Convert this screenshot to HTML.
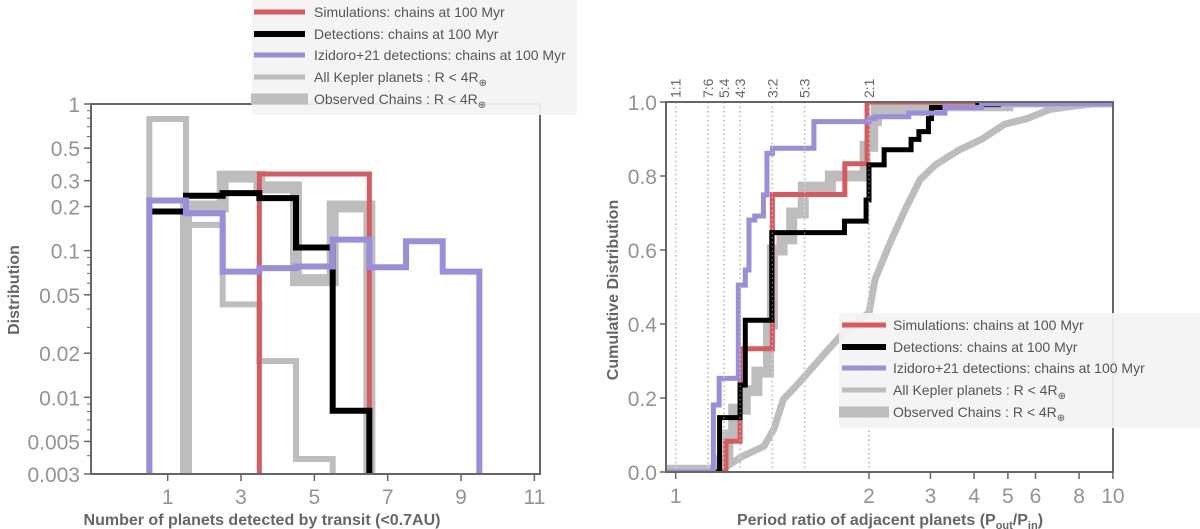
<!DOCTYPE html>
<html><head><meta charset="utf-8">
<style>
html,body{margin:0;padding:0;background:#fff;}
svg{display:block;font-family:"Liberation Sans",sans-serif;}
.tick{font-size:21px;fill:#939393;}
.title{font-size:16px;font-weight:bold;fill:#666;}
.leg{font-size:14px;fill:#555;}
.ratio{font-size:14px;fill:#666;}
</style></head>
<body>
<svg id="fig" width="1200" height="529" viewBox="0 0 1200 529">
<g id="left"></g>
<g id="right"></g>
</svg>
<script>
// ---------- Left chart data (bins = number of transiting planets) ----------
const histBins = [1,2,3,4,5,6,7,8,9];
const keplerAll = [0.79,0.15,0.043,0.0177,0.0038];
const keplerAllBins = [1,2,3,4,5];
const obsChains = [0.2,0.32,0.27,0.063,0.2];
const obsChainsBins = [2,3,4,5,6];
const simChains = [0.333,0.333,0.333];
const simChainsBins = [4,5,6];
const detChains = [0.185,0.237,0.247,0.228,0.105,0.0081];
const detChainsBins = [1,2,3,4,5,6];
const izidoro = [0.22,0.18,0.072,0.076,0.078,0.119,0.077,0.116,0.072];
const izidoroBins = [1,2,3,4,5,6,7,8,9];
const leftXTicks = [1,3,5,7,9,11];
const leftYTicks = [1,0.5,0.3,0.2,0.1,0.05,0.02,0.01,0.005,0.003];
const leftYTickLabels = ["1","0.5","0.3","0.2","0.1","0.05","0.02","0.01","0.005","0.003"];

// ---------- Right chart data (CDF of period ratios) ----------
const keplerCdfX = [0.95,1.18,1.2,1.25,1.34,1.457,1.507,1.557,1.636,1.754,1.873,1.972,2.0,2.08,2.3,2.54,2.8,3.1,3.62,4.22,4.89,5.67,6.6,7.9,10];
const keplerCdfY = [0.01,0.01,0.0,0.01,0.041,0.07,0.115,0.196,0.24,0.31,0.38,0.42,0.43,0.52,0.62,0.71,0.79,0.83,0.87,0.9,0.94,0.955,0.98,0.99,1.0];
const chainsCdfX = [1.23,1.27,1.3,1.36,1.42,1.48,1.5,1.55,1.6,1.66,1.8,1.98,2.05,2.1,3.0,5.0,10];
const chainsCdfY = [0.03,0.1,0.17,0.22,0.27,0.4,0.6,0.63,0.7,0.77,0.8,0.88,0.95,0.98,0.99,1.0,1.0];
const simCdfX = [1.26,1.333,1.5,1.875,1.99,10];
const simCdfY = [0.083,0.333,0.75,0.833,1.0,1.0];
const detCdfX = [1.227,1.333,1.36,1.497,1.873,1.985,2.0,2.21,2.64,2.78,2.96,3.02,4.1,4.7,10];
const detCdfY = [0.147,0.235,0.41,0.647,0.678,0.735,0.83,0.871,0.899,0.92,0.955,0.985,0.993,1.0,1.0];
const izCdfX = [0.95,1.195,1.225,1.324,1.36,1.379,1.409,1.454,1.472,1.501,1.715,2.0,2.08,2.6,3.3,4.2,10];
const izCdfY = [0.0,0.181,0.253,0.505,0.546,0.681,0.692,0.749,0.861,0.875,0.947,0.955,0.96,0.97,0.985,0.995,1.0];
const rightXTicks = [1,2,3,4,5,6,8,10];
const rightYTicks = [0,0.2,0.4,0.6,0.8,1.0];
const ratioValues = [1,7/6,5/4,4/3,3/2,5/3,2];
const ratioLabels = ["1:1","7:6","5:4","4:3","3:2","5:3","2:1"];

const NS = "http://www.w3.org/2000/svg";
function mk(tag, attrs, parent){const e=document.createElementNS(NS,tag);for(const k in attrs)e.setAttribute(k,attrs[k]);parent.appendChild(e);return e;}

const C_RED="#d65a60", C_PUR="#9a8ed8", C_GRAY="#bdbdbd", C_FRAME="#666";

// ================= LEFT =================
const L = document.getElementById('left');
const lx = v => 131 + v*36.67;
const LY0=104, LY1=474, LDEC=(LY1-LY0)/Math.log10(1/0.003);
const ly = v => LY0 + Math.log10(1/v)*LDEC;

function histPath(bins, vals, dropLeft, dropRight){
  let d="";
  const b0=bins[0]-0.5;
  if(dropLeft) d+=`M${lx(b0)},${LY1+4} L${lx(b0)},${ly(vals[0])}`;
  else d+=`M${lx(b0)},${ly(vals[0])}`;
  for(let i=0;i<bins.length;i++){
    const a=bins[i]-0.5,b=bins[i]+0.5;
    d+=` L${lx(a)},${ly(vals[i])} L${lx(b)},${ly(vals[i])}`;
  }
  if(dropRight) d+=` L${lx(bins[bins.length-1]+0.5)},${LY1+4}`;
  return d;
}
const clipL = mk('clipPath',{id:'clipL'},L);
mk('rect',{x:91,y:LY0,width:449,height:LY1-LY0},clipL);
const lg = mk('g',{'clip-path':'url(#clipL)'},L);
let p;
p=mk('path',{d:histPath(obsChainsBins,obsChains,true,true),fill:'none',stroke:C_GRAY,'stroke-width':12},lg);


p=mk('path',{d:histPath(keplerAllBins,keplerAll,true,true),fill:'none',stroke:C_GRAY,'stroke-width':6},lg);


p=mk('path',{d:histPath(simChainsBins,simChains,true,true),fill:'none',stroke:C_RED,'stroke-width':5},lg);


p=mk('path',{d:histPath(detChainsBins,detChains,false,true),fill:'none',stroke:'#000','stroke-width':6},lg);


p=mk('path',{d:histPath(izidoroBins,izidoro,true,true),fill:'none',stroke:C_PUR,'stroke-width':6},lg);



p=mk('rect',{x:91,y:LY0,width:449,height:LY1-LY0,fill:'none',stroke:C_FRAME,'stroke-width':2},L);


for(let i=0;i<leftYTicks.length;i++){
  const y=ly(leftYTicks[i]);
  mk('line',{x1:84,x2:91,y1:y,y2:y,stroke:C_FRAME,'stroke-width':1.5},L);
  const t=mk('text',{x:80,y:y+8,'text-anchor':'end',class:'tick'},L);
  t.textContent=leftYTickLabels[i];
  
  
}
for(const dec of [0.001,0.01,0.1]){
  for(let m=2;m<=9;m++){const v=m*dec; if(v<0.003||v>1)continue;
    const y=ly(v); mk('line',{x1:87,x2:91,y1:y,y2:y,stroke:C_FRAME,'stroke-width':1},L);}
}
for(const v of leftXTicks){
  const x=lx(v);
  mk('line',{x1:x,x2:x,y1:LY1,y2:LY1+7,stroke:C_FRAME,'stroke-width':1.5},L);
  const t=mk('text',{x:x,y:LY1+30,'text-anchor':'middle',class:'tick'},L);
  t.textContent=v;
  
  
}
p=mk('text',{x:262,y:525,'text-anchor':'middle',class:'title'},L);
p.textContent="Number of planets detected by transit (<0.7AU)";


p=mk('text',{x:0,y:0,'text-anchor':'middle',class:'title',transform:'translate(19,290) rotate(-90)'},L);
p.textContent="Distribution";



// ================= RIGHT =================
const R = document.getElementById('right');
const RX0=666, RX1=1113, RY0=102, RY1=472;
const rx = v => v<=2 ? 675.7 + (v-1)*193.3 : 869 + Math.log10(v/2)*349;
const ry = v => RY1 - v*(RY1-RY0);
function stepPath(xs, ys){
  let d=`M${RX0},${ry(0)} L${rx(xs[0])},${ry(0)}`;
  let prev=0;
  for(let i=0;i<xs.length;i++){
    d+=` L${rx(xs[i])},${ry(prev)} L${rx(xs[i])},${ry(ys[i])}`;
    prev=ys[i];
  }
  d+=` L${RX1},${ry(prev)}`;
  return d;
}
function linePath(xs, ys){
  let d=`M${RX0},${ry(ys[0])}`;
  for(let i=0;i<xs.length;i++) d+=` L${rx(xs[i])},${ry(ys[i])}`;
  return d;
}
const clipR = mk('clipPath',{id:'clipR'},R);
mk('rect',{x:RX0,y:RY0,width:RX1-RX0,height:RY1-RY0},clipR);
const rg = mk('g',{'clip-path':'url(#clipR)'},R);
for(let i=0;i<ratioValues.length;i++){
  const x=rx(ratioValues[i]);
  p=mk('line',{x1:x,x2:x,y1:RY0,y2:RY1,stroke:'#888','stroke-width':1.5,'stroke-dasharray':'1.5,3'},rg);
  
  
}
p=mk('path',{d:linePath(keplerCdfX,keplerCdfY),fill:'none',stroke:C_GRAY,'stroke-width':7},rg);


p=mk('path',{d:stepPath(chainsCdfX,chainsCdfY),fill:'none',stroke:C_GRAY,'stroke-width':11},rg);


p=mk('path',{d:stepPath(simCdfX,simCdfY),fill:'none',stroke:C_RED,'stroke-width':5},rg);


p=mk('path',{d:stepPath(detCdfX,detCdfY),fill:'none',stroke:'#000','stroke-width':5},rg);


p=mk('path',{d:stepPath(izCdfX,izCdfY),fill:'none',stroke:C_PUR,'stroke-width':5},rg);


for(let i=0;i<ratioValues.length;i++){
  const x=rx(ratioValues[i]);
  mk('line',{x1:x,x2:x,y1:RY0,y2:RY1,stroke:'#fff','stroke-width':1.2,'stroke-dasharray':'1.5,3','opacity':0.5},rg);
  const t=mk('text',{x:0,y:0,class:'ratio',transform:`translate(${x+5},98) rotate(-90)`},R);
  t.textContent=ratioLabels[i];
  
  
}
p=mk('rect',{x:RX0,y:RY0,width:RX1-RX0,height:RY1-RY0,fill:'none',stroke:C_FRAME,'stroke-width':2},R);


for(const v of rightYTicks){
  const y=ry(v);
  mk('line',{x1:RX0-6,x2:RX0,y1:y,y2:y,stroke:C_FRAME,'stroke-width':1.5},R);
  const t=mk('text',{x:RX0-9,y:y+8,'text-anchor':'end',class:'tick'},R);
  t.textContent=v.toFixed(1);
  
  
}
for(const v of rightXTicks){
  const x=rx(v);
  mk('line',{x1:x,x2:x,y1:RY1,y2:RY1+7,stroke:C_FRAME,'stroke-width':1.5},R);
  const t=mk('text',{x:x,y:RY1+31,'text-anchor':'middle',class:'tick'},R);
  t.textContent=v;
  
  
}
p=mk('text',{x:890,y:525,'text-anchor':'middle',class:'title'},R);
p.innerHTML='Period ratio of adjacent planets (P<tspan font-size="11" dy="4">out</tspan><tspan dy="-4">/P</tspan><tspan font-size="11" dy="4">in</tspan><tspan dy="-4">)</tspan>';


p=mk('text',{x:0,y:0,'text-anchor':'middle',class:'title',transform:'translate(618,290) rotate(-90)'},R);
p.textContent="Cumulative Distribution";



// ================= LEGENDS =================
const legLabels = ["Simulations: chains at 100 Myr","Detections: chains at 100 Myr","Izidoro+21 detections: chains at 100 Myr","All Kepler planets  : R < 4R","Observed Chains : R < 4R"];
const legColors = [C_RED,"#000",C_PUR,C_GRAY,C_GRAY];
const legWidths = [5,6,5,5,11];
function legend(x0,y0,w,h,lineX,lineW,textX,ys,name){
  const g=mk('g',{},document.getElementById('fig'));
  
  
  mk('rect',{x:x0,y:y0,width:w,height:h,fill:'#f3f3f3','fill-opacity':0.93,rx:3},g);
  for(let i=0;i<legLabels.length;i++){
    const y=ys[i];
    const extra = i===4?3:0;
    mk('line',{x1:lineX-extra,x2:lineX+lineW+extra,y1:y,y2:y,stroke:legColors[i],'stroke-width':legWidths[i]},g);
    const t=mk('text',{x:textX,y:y+5,class:'leg'},g);
    t.innerHTML = legLabels[i] + (i>=3?'<tspan font-size="10" dy="4">⊕</tspan>':'');
    
    
  }
}
legend(252,-5,325,120,254,51,314,[12,34,55,77,99],'top-legend');
legend(839,313,365,115,842,44,893,[325,347,368,390,412],'right-legend');
</script>
</body></html>
